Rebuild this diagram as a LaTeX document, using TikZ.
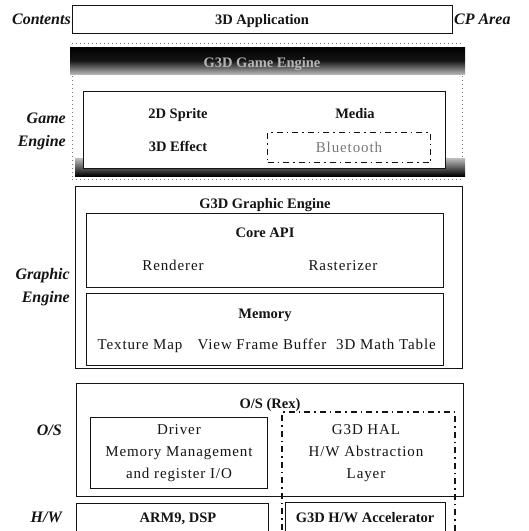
\documentclass[tikz,border=0pt]{standalone}
\usepackage{fontspec}
\setmainfont{Liberation Serif}
\newfontfamily\widefont[LetterSpace=6]{Liberation Serif}
\usetikzlibrary{calc}
\definecolor{inkc}{RGB}{20,20,20}
\definecolor{fadec}{RGB}{120,120,120}
\tikzset{
  box/.style={
    rectangle, draw=inkc, line width=0.9pt, fill=white,
    inner sep=0pt, anchor=north west
  },
  txt/.style={font=\fontsize{15}{22}\widefont, text=inkc, inner sep=1pt,
              align=center, anchor=base},
  mtxt/.style={txt, anchor=center},
  btxt/.style={txt, font=\fontsize{14.5}{22}\selectfont\bfseries},
  side/.style={font=\fontsize{16}{23}\selectfont\bfseries\itshape, text=inkc,
               inner sep=1pt, align=right, anchor=east},
  dd/.style={draw=inkc, line width=1.3pt,
             dash pattern=on 6pt off 4pt on 1.5pt off 4pt},
  dots/.style={draw=fadec, line width=0.6pt, dash pattern=on 1pt off 3pt},
}

\begin{document}
\begin{tikzpicture}[x=1pt, y=-1pt]

  \path[use as bounding box, clip] (0,0) rectangle (529,531);
  \fill[white] (0,0) rectangle (529,531);

  % contents row
  \node[box, minimum width=380pt, minimum height=28pt] (app) at (72,5) {};
  \node[btxt] (appt) at (262,24) {3D Application};
  \node[side] (contents) at (app.west) {Contents};
  \node[side, anchor=west] (cparea) at (app.east) {CP Area};

  % game engine
  \draw[dots] (72,43) -- (462,43);
  \shade[top color=black, bottom color=black!30, middle color=black!92]
    (70,47) rectangle (465,74);
  \node[btxt, text=fadec!55] (gtitle) at (262,67) {G3D Game Engine};
  \draw[dots] (72,76) -- (72,178);
  \draw[dots] (462,76) -- (462,178);
  \shade[top color=black!25, bottom color=black] (75,158) rectangle (465,176);
  \node[box, minimum width=362pt, minimum height=77pt] (game) at (83,91) {};
  \node[btxt] (sprite) at (178,118) {2D Sprite};
  \node[btxt] (media) at (355,118) {Media};
  \node[btxt] (effect) at (178,151) {3D Effect};
  \node[box, dd, minimum width=163pt, minimum height=30pt] (bt) at (267,132) {};
  \node[txt, text=fadec] (btt) at (349,152) {Bluetooth};
  \draw[dots] (72,179) -- (462,179);
  \node[side] (gamel) at (67,131) {Game\\Engine};

  % graphic engine
  \node[box, minimum width=387pt, minimum height=182pt] (graph) at (75,186) {};
  \node[btxt] (gtit) at (265,208) {G3D Graphic Engine};
  \node[box, minimum width=357pt, minimum height=74pt] (core) at (86,213) {};
  \node[btxt] (coret) at (265,237) {Core API};
  \node[txt] (rend) at (173,270) {Renderer};
  \node[txt] (rast) at (343,270) {Rasterizer};
  \node[box, minimum width=357pt, minimum height=72pt] (mem) at (86,293) {};
  \node[btxt] (memt) at (265,318) {Memory};
  \node[txt] (tex) at (140,349) {Texture Map};
  \node[txt] (vfb) at (262,349) {View Frame Buffer};
  \node[txt] (math) at (386,349) {3D Math Table};
  \node[side] (graphl) at (71,287) {Graphic\\Engine};

  % operating system
  \node[box, minimum width=387pt, minimum height=113pt] (os) at (76,383) {};
  \node[btxt] (ost) at (270,408) {O/S (Rex)};
  \node[box, minimum width=177pt, minimum height=71pt] (drv) at (90,417) {};
  \node[mtxt] (drvt) at (drv.center) {Driver\\Memory Management\\and register I/O};
  \node[mtxt] (halt) at (366,453) {G3D HAL\\H/W Abstraction\\Layer};
  \node[side] (osl) at (63,430) {O/S};

  % hardware
  \node[box, minimum width=192pt, minimum height=40pt] (arm) at (76,503) {};
  \node[btxt] (armt) at (178,522) {ARM9, DSP};
  \node[box, minimum width=160pt, minimum height=40pt] (acc) at (285,502) {};
  \node[btxt] (acct) at (365,522) {G3D H/W Accelerator};
  \node[side] (hwl) at (63,517) {H/W};

  % HAL and accelerator grouping
  \draw[dd] (282,545) -- (282,412) -- (455,412) -- (455,545);

\end{tikzpicture}
\end{document}
